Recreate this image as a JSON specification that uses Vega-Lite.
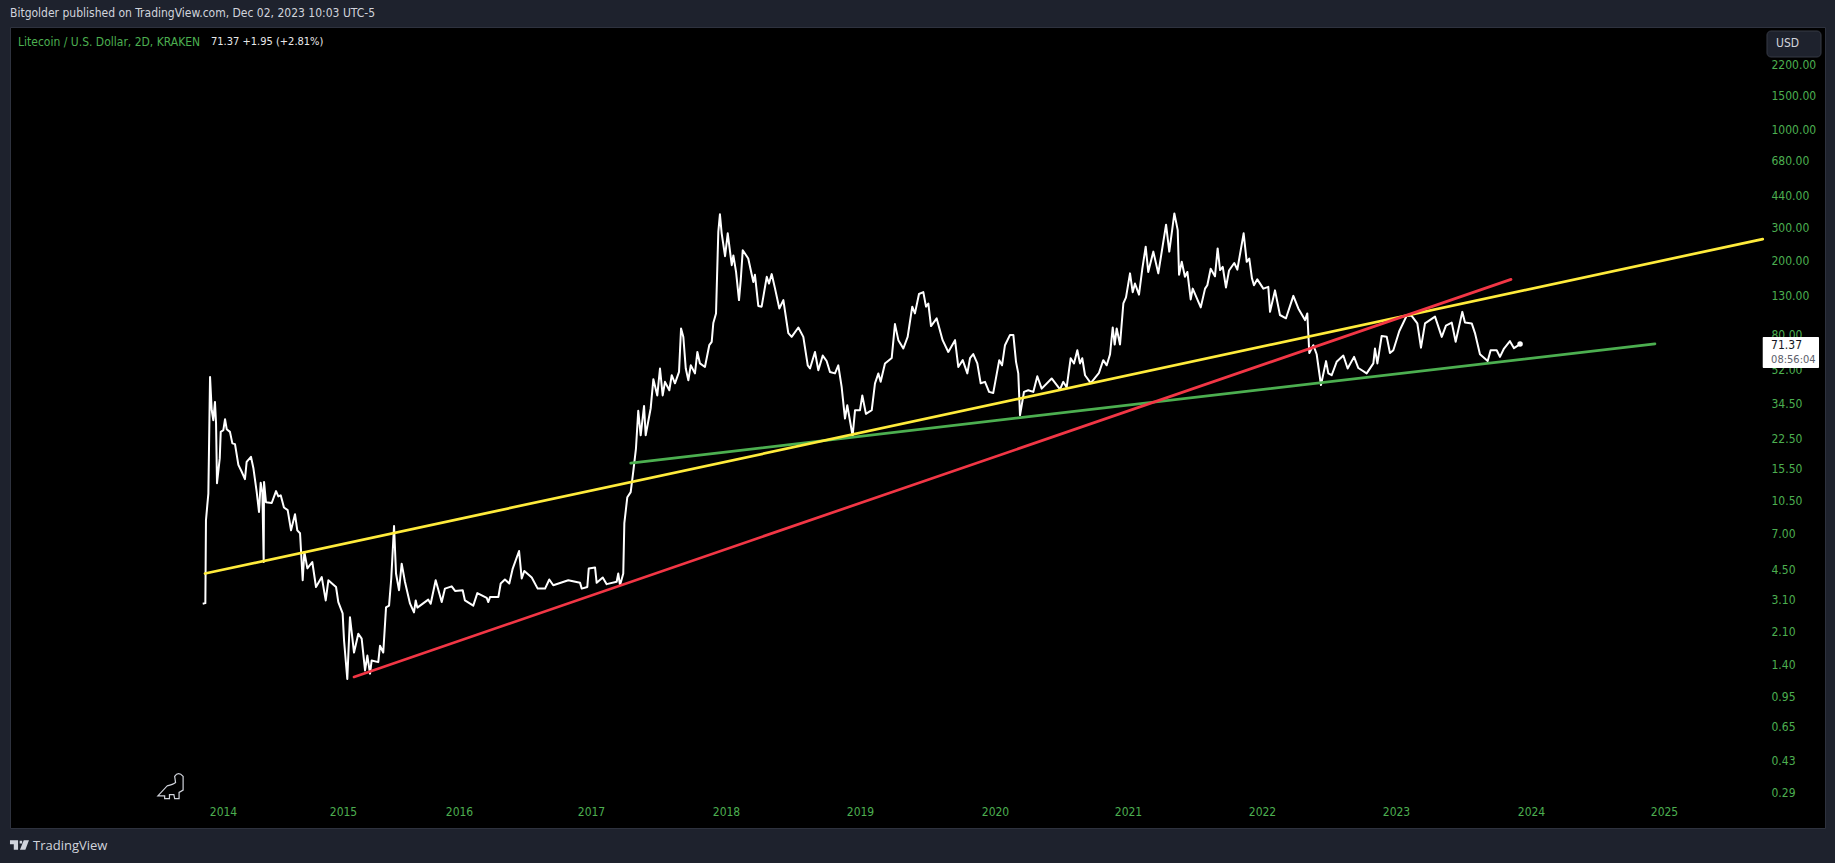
{
  "$schema": "https://vega.github.io/schema/vega-lite/v6.json",
  "description": "Litecoin / U.S. Dollar, log scale, with three trend lines",
  "width": 1815,
  "height": 801,
  "autosize": "none",
  "padding": {"left": 10, "top": 27, "right": 10, "bottom": 35},
  "background": "#1e222d",
  "view": {"fill": "#000000", "stroke": "#2e323e"},
  "title": {
    "text": "Bitgolder published on TradingView.com, Dec 02, 2023 10:03 UTC-5",
    "anchor": "start",
    "frame": "group",
    "offset": 7,
    "font": "DejaVu Sans Condensed, Noto Sans",
    "fontSize": 12,
    "fontWeight": "normal",
    "color": "#d1d4dc"
  },
  "config": {"text": {"font": "DejaVu Sans Condensed, Noto Sans", "fontSize": 12}},
  "datasets": {
    "prices": [
      {"t":2013.831,"p":2.95},{"t":2013.853,"p":2.97},{"t":2013.858,"p":8.2},{"t":2013.869,"p":9.85},{"t":2013.878,"p":11.4},{"t":2013.892,"p":47.7},{"t":2013.906,"p":31.7},{"t":2013.919,"p":28.05},{"t":2013.933,"p":35.1},{"t":2013.942,"p":27},{"t":2013.95,"p":12.95},{"t":2013.973,"p":17.6},{"t":2013.981,"p":24.3},
      {"t":2014.003,"p":24.8},{"t":2014.017,"p":28.4},{"t":2014.031,"p":25.1},{"t":2014.058,"p":24.3},{"t":2014.078,"p":21.1},{"t":2014.1,"p":20.9},{"t":2014.128,"p":16.2},{"t":2014.156,"p":14.9},{"t":2014.183,"p":13.6},{"t":2014.197,"p":16.8},{"t":2014.233,"p":17.9},{"t":2014.253,"p":15.6},{"t":2014.281,"p":11.6},{"t":2014.3,"p":9.1},{"t":2014.314,"p":13},{"t":2014.328,"p":11.6},{"t":2014.339,"p":4.92},{"t":2014.342,"p":13.15},{"t":2014.358,"p":10.25},{"t":2014.406,"p":10.15},{"t":2014.442,"p":11.75},{"t":2014.461,"p":11},{"t":2014.481,"p":11.15},{"t":2014.508,"p":9.6},{"t":2014.539,"p":9.3},{"t":2014.567,"p":7.26},{"t":2014.6,"p":8.85},{"t":2014.619,"p":7.26},{"t":2014.642,"p":7},{"t":2014.664,"p":3.93},{"t":2014.678,"p":5.57},{"t":2014.703,"p":4.55},{"t":2014.744,"p":4.92},{"t":2014.775,"p":3.62},{"t":2014.823,"p":4.09},{"t":2014.856,"p":3.07},{"t":2014.878,"p":3.93},{"t":2014.906,"p":3.79},{"t":2014.942,"p":3.62},{"t":2014.961,"p":3.01},{"t":2014.997,"p":2.62},
      {"t":2015.009,"p":1.88},{"t":2015.037,"p":1.17},{"t":2015.06,"p":2.5},{"t":2015.095,"p":1.62},{"t":2015.132,"p":2.04},{"t":2015.161,"p":1.92},{"t":2015.19,"p":1.3},{"t":2015.21,"p":1.56},{"t":2015.233,"p":1.25},{"t":2015.247,"p":1.47},{"t":2015.304,"p":1.44},{"t":2015.319,"p":1.76},{"t":2015.347,"p":1.62},{"t":2015.371,"p":2.82},{"t":2015.397,"p":2.88},{"t":2015.416,"p":4.02},{"t":2015.44,"p":7.65},{"t":2015.457,"p":4.27},{"t":2015.483,"p":3.48},{"t":2015.506,"p":4.82},{"t":2015.534,"p":3.86},{"t":2015.578,"p":2.95},{"t":2015.612,"p":2.65},{"t":2015.627,"p":3.07},{"t":2015.641,"p":2.81},{"t":2015.735,"p":3.1},{"t":2015.756,"p":2.95},{"t":2015.799,"p":3.93},{"t":2015.851,"p":3.01},{"t":2015.879,"p":3.55},{"t":2015.937,"p":3.65},{"t":2015.966,"p":3.45},
      {"t":2016.028,"p":3.48},{"t":2016.045,"p":3.07},{"t":2016.108,"p":2.88},{"t":2016.139,"p":3.36},{"t":2016.21,"p":3.17},{"t":2016.222,"p":3.01},{"t":2016.235,"p":3.2},{"t":2016.298,"p":3.2},{"t":2016.316,"p":3.78},{"t":2016.348,"p":3.97},{"t":2016.381,"p":3.78},{"t":2016.407,"p":4.54},{"t":2016.455,"p":5.63},{"t":2016.475,"p":4.02},{"t":2016.495,"p":4.41},{"t":2016.551,"p":4.07},{"t":2016.596,"p":3.55},{"t":2016.652,"p":3.55},{"t":2016.684,"p":3.97},{"t":2016.714,"p":3.7},{"t":2016.828,"p":3.93},{"t":2016.917,"p":3.81},{"t":2016.93,"p":3.55},{"t":2016.972,"p":3.62},{"t":2016.983,"p":4.54},
      {"t":2017.03,"p":4.6},{"t":2017.042,"p":3.81},{"t":2017.087,"p":4.07},{"t":2017.116,"p":3.75},{"t":2017.19,"p":3.86},{"t":2017.202,"p":4.27},{"t":2017.215,"p":3.7},{"t":2017.239,"p":4.27},{"t":2017.247,"p":7.94},{"t":2017.269,"p":10.9},{"t":2017.294,"p":11.6},{"t":2017.313,"p":14.9},{"t":2017.333,"p":19.8},{"t":2017.35,"p":31.5},{"t":2017.368,"p":23.3},{"t":2017.393,"p":33.4},{"t":2017.405,"p":23.3},{"t":2017.442,"p":32.4},{"t":2017.462,"p":46.4},{"t":2017.491,"p":38},{"t":2017.511,"p":52.9},{"t":2017.531,"p":38},{"t":2017.548,"p":44.9},{"t":2017.58,"p":40.5},{"t":2017.598,"p":48.7},{"t":2017.622,"p":44.1},{"t":2017.652,"p":50.7},{"t":2017.667,"p":86.5},{"t":2017.684,"p":77.9},{"t":2017.702,"p":52.9},{"t":2017.721,"p":45.8},{"t":2017.739,"p":55},{"t":2017.77,"p":49.8},{"t":2017.788,"p":64.8},{"t":2017.807,"p":56.3},{"t":2017.844,"p":53.9},{"t":2017.876,"p":70.4},{"t":2017.894,"p":73.4},{"t":2017.906,"p":92.5},{"t":2017.926,"p":104},{"t":2017.943,"p":283},{"t":2017.955,"p":351},{"t":2017.968,"p":278},{"t":2017.993,"p":210},
      {"t":2018.013,"p":278},{"t":2018.043,"p":188},{"t":2018.055,"p":212},{"t":2018.075,"p":173},{"t":2018.097,"p":122.5},{"t":2018.11,"p":156.5},{"t":2018.125,"p":226},{"t":2018.166,"p":204},{"t":2018.204,"p":153},{"t":2018.216,"p":167},{"t":2018.241,"p":114},{"t":2018.266,"p":113},{"t":2018.304,"p":163},{"t":2018.321,"p":150},{"t":2018.341,"p":168.5},{"t":2018.366,"p":141},{"t":2018.398,"p":110.5},{"t":2018.428,"p":122.5},{"t":2018.465,"p":81.7},{"t":2018.49,"p":78},{"t":2018.54,"p":87.5},{"t":2018.577,"p":78},{"t":2018.61,"p":55},{"t":2018.627,"p":52.9},{"t":2018.664,"p":64.8},{"t":2018.689,"p":51.8},{"t":2018.722,"p":62},{"t":2018.751,"p":58},{"t":2018.776,"p":50.7},{"t":2018.813,"p":49.8},{"t":2018.838,"p":55},{"t":2018.863,"p":42.2},{"t":2018.888,"p":28.6},{"t":2018.905,"p":33.7},{"t":2018.945,"p":23.1},{"t":2018.963,"p":31.7},
      {"t":2019,"p":31.7},{"t":2019.017,"p":38},{"t":2019.044,"p":30.3},{"t":2019.087,"p":31.7},{"t":2019.111,"p":44.1},{"t":2019.136,"p":49.8},{"t":2019.153,"p":44.9},{"t":2019.185,"p":56.3},{"t":2019.235,"p":60.2},{"t":2019.259,"p":91.2},{"t":2019.284,"p":74.9},{"t":2019.321,"p":67.6},{"t":2019.353,"p":78},{"t":2019.387,"p":113},{"t":2019.407,"p":104},{"t":2019.437,"p":132},{"t":2019.469,"p":135},{"t":2019.489,"p":113},{"t":2019.506,"p":117.5},{"t":2019.526,"p":89},{"t":2019.568,"p":97.8},{"t":2019.612,"p":74.9},{"t":2019.654,"p":64.8},{"t":2019.704,"p":74.9},{"t":2019.728,"p":53.9},{"t":2019.761,"p":58.6},{"t":2019.795,"p":49.8},{"t":2019.815,"p":60},{"t":2019.839,"p":63.1},{"t":2019.869,"p":56.3},{"t":2019.894,"p":44.1},{"t":2019.926,"p":44.9},{"t":2019.956,"p":39.7},{"t":2019.987,"p":39.2},
      {"t":2020.032,"p":58.6},{"t":2020.053,"p":55},{"t":2020.075,"p":70.4},{"t":2020.113,"p":79.9},{"t":2020.138,"p":79.9},{"t":2020.158,"p":57.4},{"t":2020.175,"p":49.8},{"t":2020.188,"p":29.8},{"t":2020.218,"p":39.7},{"t":2020.25,"p":40.5},{"t":2020.288,"p":39.7},{"t":2020.318,"p":48.1},{"t":2020.351,"p":41.3},{"t":2020.426,"p":46.8},{"t":2020.489,"p":40.9},{"t":2020.513,"p":44.9},{"t":2020.539,"p":41.9},{"t":2020.569,"p":60},{"t":2020.594,"p":56.3},{"t":2020.619,"p":66.2},{"t":2020.639,"p":56.3},{"t":2020.656,"p":60},{"t":2020.677,"p":48.7},{"t":2020.72,"p":44.2},{"t":2020.782,"p":50.2},{"t":2020.814,"p":58.6},{"t":2020.84,"p":55},{"t":2020.865,"p":63},{"t":2020.885,"p":87.5},{"t":2020.9,"p":71},{"t":2020.915,"p":86.5},{"t":2020.94,"p":71},{"t":2020.965,"p":117.5},{"t":2020.985,"p":126.7},
      {"t":2021.015,"p":170},{"t":2021.035,"p":135},{"t":2021.052,"p":150},{"t":2021.082,"p":131},{"t":2021.107,"p":180},{"t":2021.132,"p":236},{"t":2021.151,"p":173},{"t":2021.189,"p":222},{"t":2021.226,"p":170},{"t":2021.284,"p":309},{"t":2021.308,"p":222},{"t":2021.346,"p":355},{"t":2021.371,"p":289},{"t":2021.381,"p":167},{"t":2021.401,"p":196},{"t":2021.425,"p":163},{"t":2021.443,"p":173},{"t":2021.468,"p":123.5},{"t":2021.483,"p":141},{"t":2021.543,"p":112},{"t":2021.575,"p":141},{"t":2021.592,"p":147},{"t":2021.617,"p":180},{"t":2021.649,"p":164},{"t":2021.669,"p":231},{"t":2021.687,"p":177},{"t":2021.707,"p":184},{"t":2021.731,"p":143},{"t":2021.754,"p":176},{"t":2021.793,"p":193},{"t":2021.816,"p":178},{"t":2021.863,"p":278},{"t":2021.886,"p":196},{"t":2021.905,"p":204},{"t":2021.925,"p":160},{"t":2021.94,"p":147},{"t":2021.965,"p":158},
      {"t":2022.01,"p":141},{"t":2022.047,"p":144},{"t":2022.06,"p":106},{"t":2022.097,"p":138},{"t":2022.134,"p":102},{"t":2022.179,"p":98},{"t":2022.234,"p":129},{"t":2022.271,"p":110.5},{"t":2022.321,"p":95.8},{"t":2022.338,"p":104},{"t":2022.353,"p":64},{"t":2022.383,"p":70.4},{"t":2022.408,"p":63},{"t":2022.44,"p":43.2},{"t":2022.478,"p":57.9},{"t":2022.495,"p":49.8},{"t":2022.52,"p":48.7},{"t":2022.557,"p":57.4},{"t":2022.607,"p":62},{"t":2022.639,"p":52.9},{"t":2022.687,"p":61},{"t":2022.719,"p":53.2},{"t":2022.781,"p":49.8},{"t":2022.831,"p":56.3},{"t":2022.843,"p":67.6},{"t":2022.861,"p":56.3},{"t":2022.893,"p":78.8},{"t":2022.931,"p":78},{"t":2022.955,"p":64},{"t":2022.98,"p":66.2},
      {"t":2023.024,"p":83.5},{"t":2023.079,"p":101},{"t":2023.116,"p":101},{"t":2023.158,"p":92},{"t":2023.185,"p":68.3},{"t":2023.215,"p":92},{"t":2023.289,"p":100},{"t":2023.339,"p":78},{"t":2023.37,"p":89.5},{"t":2023.413,"p":92.9},{"t":2023.442,"p":73.4},{"t":2023.491,"p":106},{"t":2023.511,"p":92.9},{"t":2023.561,"p":92},{"t":2023.585,"p":81.7},{"t":2023.622,"p":63},{"t":2023.679,"p":58},{"t":2023.701,"p":66.2},{"t":2023.746,"p":66.2},{"t":2023.77,"p":61},{"t":2023.8,"p":67.6},{"t":2023.844,"p":74},{"t":2023.874,"p":67.9},{"t":2023.919,"p":71.37}
    ],
    "last": [{"t":2023.919,"p":71.37}],
    "trends": [
      {"name":"green","t":2017.294,"p":16.57},{"name":"green","t":2024.932,"p":71.6},
      {"name":"yellow","t":2013.85,"p":4.27},{"name":"yellow","t":2025.742,"p":259},
      {"name":"red","t":2015.095,"p":1.2},{"name":"red","t":2023.852,"p":157.9}
    ],
    "priceTicks": [{"p":2200},{"p":1500},{"p":1000},{"p":680},{"p":440},{"p":300},{"p":200},{"p":130},{"p":80},{"p":52},{"p":34.5},{"p":22.5},{"p":15.5},{"p":10.5},{"p":7},{"p":4.5},{"p":3.1},{"p":2.1},{"p":1.4},{"p":0.95},{"p":0.65},{"p":0.43},{"p":0.29}],
    "yearTicks": [{"t":2014},{"t":2015},{"t":2016},{"t":2017},{"t":2018},{"t":2019},{"t":2020},{"t":2021},{"t":2022},{"t":2023},{"t":2024},{"t":2025}]
  },
  "data": {"name": "prices"},
  "encoding": {
    "x": {
      "field": "t",
      "type": "quantitative",
      "scale": {
        "domain": [2012.225,2014,2015,2016,2017,2018,2019,2020,2021,2022,2023,2024,2025,2026.21],
        "range": [0,213,333,449,581,716,850,985,1118,1252,1386,1521,1654,1815]
      },
      "axis": {
        "title": null,
        "values": [2014,2015,2016,2017,2018,2019,2020,2021,2022,2023,2024,2025],
        "format": "d",
        "orient": "bottom",
        "offset": -22,
        "domain": false,
        "ticks": false,
        "grid": false,
        "labelPadding": 0,
        "labelFontSize": 12,
        "labelFont": "DejaVu Sans Condensed, Noto Sans",
        "labelColor": "#4caf50"
      }
    },
    "y": {
      "field": "p",
      "type": "quantitative",
      "scale": {"type": "log", "domain": [0.188, 3497]},
      "axis": {
        "title": null,
        "values": [2200,1500,1000,680,440,300,200,130,80,52,34.5,22.5,15.5,10.5,7,4.5,3.1,2.1,1.4,0.95,0.65,0.43,0.29],
        "format": ".2f",
        "orient": "right",
        "offset": -54,
        "domain": false,
        "ticks": false,
        "grid": false,
        "labelPadding": 0,
        "labelOverlap": false,
        "labelFontSize": 12,
        "labelFont": "DejaVu Sans Condensed, Noto Sans",
        "labelColor": "#4caf50"
      }
    }
  },
  "layer": [
    {
      "data": {"name": "priceTicks"},
      "mark": {"type": "rule", "color": "#0e0e0e", "strokeWidth": 1},
      "encoding": {"x": {"datum": 2012.225}, "x2": {"datum": 2025.742}}
    },
    {
      "data": {"name": "yearTicks"},
      "mark": {"type": "rule", "color": "#0e0e0e", "strokeWidth": 1},
      "encoding": {"y": {"datum": 3497}, "y2": {"datum": 0.265}}
    },
    {"mark": {"type": "line", "color": "#ffffff", "strokeWidth": 2, "strokeJoin": "round"}},
    {
      "data": {"name": "last"},
      "mark": {"type": "point", "filled": true, "color": "#ffffff", "size": 30, "opacity": 1}
    },
    {
      "data": {"name": "trends"},
      "mark": {"type": "line", "strokeWidth": 2.7, "strokeCap": "round"},
      "encoding": {
        "color": {
          "field": "name",
          "type": "nominal",
          "scale": {"domain": ["green","yellow","red"], "range": ["#4caf50","#ffeb3b","#f23645"]},
          "legend": null
        },
        "order": {"field": "t"}
      }
    },
    {
      "data": {"values": [{"t":2025.742,"t2":2026.165,"p":77.9,"p2":53.2}]},
      "mark": {"type": "rect", "color": "#ffffff", "cornerRadius": 1},
      "encoding": {"x2": {"field": "t2"}, "y2": {"field": "p2"}}
    },
    {
      "data": {"values": [{"t":2025.805,"p":70.6,"label":"71.37"}]},
      "mark": {"type": "text", "align": "left", "baseline": "middle", "color": "#131722"},
      "encoding": {"text": {"field": "label"}}
    },
    {
      "data": {"values": [{"t":2025.805,"p":58.7,"label":"08:56:04"}]},
      "mark": {"type": "text", "align": "left", "baseline": "middle", "color": "#5d606b", "fontSize": 11},
      "encoding": {"text": {"field": "label"}}
    },
    {
      "data": {"values": [{"t":2025.774,"t2":2026.18,"p":3329,"p2":2420}]},
      "mark": {"type": "rect", "fill": "#1e222d", "stroke": "#363a45", "cornerRadius": 4},
      "encoding": {"x2": {"field": "t2"}, "y2": {"field": "p2"}}
    },
    {
      "data": {"values": [{"t":2025.842,"p":2873,"label":"USD"}]},
      "mark": {"type": "text", "align": "left", "baseline": "middle", "color": "#d1d4dc"},
      "encoding": {"text": {"field": "label"}}
    },
    {
      "data": {"values": [{"t":2012.292,"p":2910,"label":"Litecoin / U.S. Dollar, 2D, KRAKEN"}]},
      "mark": {"type": "text", "align": "left", "baseline": "middle", "color": "#4caf50"},
      "encoding": {"text": {"field": "label"}}
    },
    {
      "data": {"values": [{"t":2013.9,"p":2910,"label":"71.37  +1.95 (+2.81%)"}]},
      "mark": {"type": "text", "align": "left", "baseline": "middle", "color": "#e8e8ea", "fontSize": 11},
      "encoding": {"text": {"field": "label"}}
    },
    {
      "data": {"values": [{"t":2013.5625,"p":0.315}]},
      "mark": {
        "type": "point",
        "filled": false,
        "color": "#d1d4dc",
        "opacity": 1,
        "size": 676,
        "strokeWidth": 1.2,
        "shape": "M-0.97,0.76 L-0.26,0 Q0.2,-0.1 0.39,-0.26 L0.32,-0.74 Q0.6,-1.15 0.97,-0.74 L0.97,0.32 L0.66,0.5 L0.66,0.97 L0.32,0.97 L0.26,0.66 L-0.08,0.66 L-0.08,0.97 L-0.45,0.97 L-0.45,0.76 Z"
      }
    },
    {
      "data": {"values": [{"t":2012.304,"p":0.1525}]},
      "mark": {
        "type": "point",
        "filled": true,
        "color": "#d1d4dc",
        "opacity": 1,
        "size": 361,
        "shape": "M-1,-0.5 L-0.15,-0.5 L-0.15,0.5 L-0.6,0.5 L-0.6,-0.08 L-1,-0.08 Z M0.02,-0.44 L0.28,-0.44 L0.28,-0.16 L0.02,-0.16 Z M0.45,-0.5 L1,-0.5 L0.62,0.5 L0.05,0.5 Z"
      }
    },
    {
      "data": {"values": [{"t":2012.417,"p":0.1507,"label":"TradingView"}]},
      "mark": {"type": "text", "align": "left", "baseline": "middle", "color": "#d1d4dc", "fontSize": 13, "font": "Open Sans"},
      "encoding": {"text": {"field": "label"}}
    }
  ]
}
